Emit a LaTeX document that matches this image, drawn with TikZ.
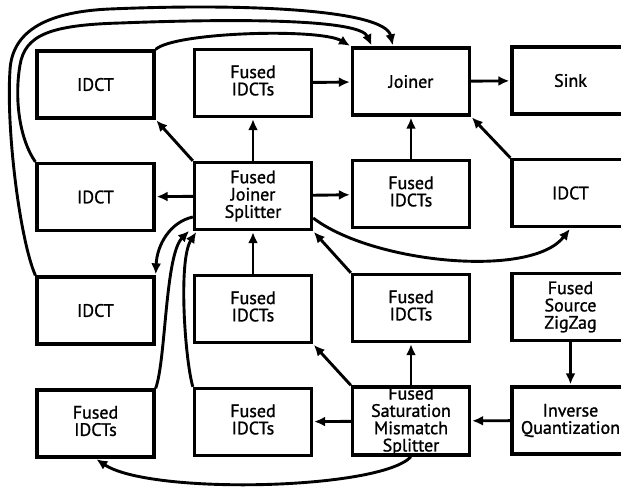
\documentclass[tikz,border=0pt]{standalone}
\usepackage{fontspec}
\setmainfont{PT Sans}
\newfontface\boxfont{PT Sans}[FakeBold=1.2]
\usetikzlibrary{arrows.meta}
\begin{document}
\begin{tikzpicture}[x=1pt,y=-1pt,
  box/.style={draw,line width=3.3pt,minimum width=117pt,minimum height=67pt,inner sep=0pt,align=center,font=\boxfont\fontsize{18}{17.3}\selectfont},
  arr/.style={line width=2.9pt,shorten >=1pt,-{Latex[length=11pt,width=10pt]}}]
\useasboundingbox (0,0) rectangle (621,487);
\clip (0,0) rectangle (621,487);
\fill[white] (0,0) rectangle (621,487);
% row 1
\node[box] (idctA) at (95.5,84.5) {IDCT};
\node[box] (fusedA) at (253,83) {Fused\\IDCTs\strut};
\node[box] (joiner) at (411,81.5) {Joiner};
\node[box] (sink) at (570.5,80.5) {Sink};
% row 2
\node[box] (idctB) at (95.5,197) {IDCT};
\node[box] (fjs) at (253,196) {Fused\\Joiner\\Splitter};
\node[box] (fusedB) at (411,194) {Fused\\IDCTs\strut};
\node[box] (idctC) at (570.5,193) {IDCT};
% row 3
\node[box] (idctD) at (95.5,310.5) {IDCT};
\node[box] (fusedC) at (253,309) {Fused\\IDCTs\strut};
\node[box] (fusedD) at (411,308) {Fused\\IDCTs\strut};
\node[box] (zigzag) at (570.5,307) {Fused\\Source\\ZigZag};
% row 4
\node[box] (fusedE) at (95.5,423.5) {Fused\\IDCTs\strut};
\node[box] (fusedF) at (253,422) {Fused\\IDCTs\strut};
\node[box] (fsms) at (411,421) {Fused\\Saturation\\Mismatch\\Splitter};
\node[box] (invq) at (570.5,420.5) {Inverse\\Quantization};
% straight connectors
\draw[arr] (fusedA) -- (joiner);
\draw[arr] (joiner) -- (sink);
\draw[arr] (fjs.north west) -- (idctA.south east);
\draw[arr] (fjs) -- (fusedA);
\draw[arr] (fusedB) -- (joiner);
\draw[arr] (idctC.north west) -- (joiner.south east);
\draw[arr] (fjs) -- (idctB);
\draw[arr] (fjs) -- (fusedB);
\draw[arr] (fusedC) -- (fjs);
\draw[arr] (fusedD.north west) -- (fjs.south east);
\draw[arr] (zigzag) -- (invq);
\draw[arr] (invq) -- (fsms);
\draw[arr] (fsms) -- (fusedF);
\draw[arr] (fsms) -- (fusedD);
\draw[arr] (fsms.north west) -- (fusedC.south east);
% curved connectors
\draw[arr] ([yshift=-22pt]fjs.east) .. controls (372,263) and (531,279) .. (idctC.south);
\draw[arr] (fsms.south) .. controls (380,490) and (150,495) .. (fusedE.south);
\draw[arr] (idctD.north west) .. controls (20,240) and (6,130) .. (10,70) .. controls (12,35) and (40,12) .. (110,9) .. controls (250,3) and (385,10) .. ([xshift=-18pt]joiner.north);
\draw[arr] (idctB.north west) .. controls (20,140) and (14,100) .. (20,65) .. controls (25,35) and (50,25) .. (120,23) .. controls (250,18) and (360,20) .. ([xshift=-39pt]joiner.north);
\draw[arr] (idctA.north east) .. controls (175,32) and (320,28) .. (joiner.north west);
\draw[arr] ([yshift=-21pt]fjs.west) .. controls (170,222) and (157,245) .. (idctD.north east);
\draw[arr] (fusedE.north east) .. controls (166,360) and (165,255) .. ([xshift=-3pt,yshift=1pt]fjs.south west);
\draw[arr] (fusedF.north west) .. controls (185,360) and (178,260) .. ([xshift=4pt]fjs.south west);
\end{tikzpicture}
\end{document}
